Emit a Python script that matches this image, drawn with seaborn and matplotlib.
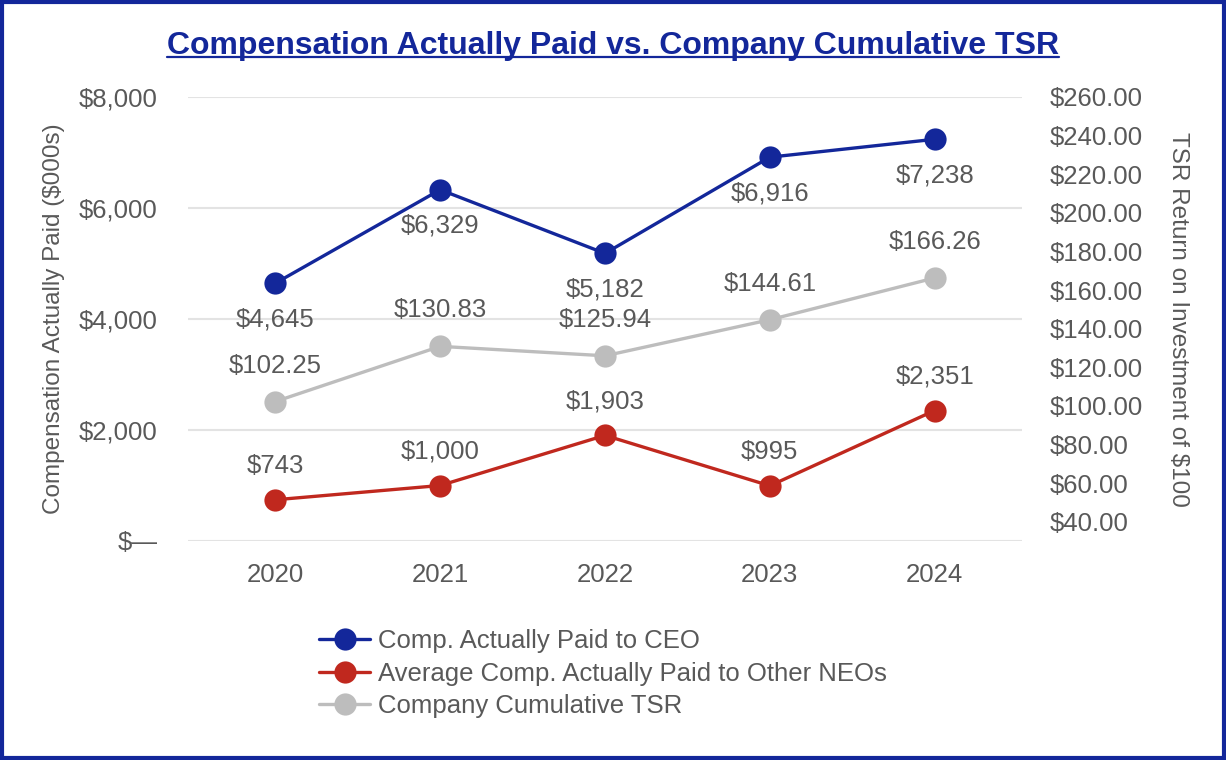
import numpy as np
import matplotlib
matplotlib.use("Agg")
import matplotlib.pyplot as plt
import seaborn as sns
from matplotlib.ticker import FuncFormatter, FixedLocator
from matplotlib.lines import Line2D
from matplotlib.patches import Rectangle

sns.set_style("white")
plt.rcParams['font.family'] = ['Liberation Sans', 'DejaVu Sans']
plt.rcParams['text.parse_math'] = False

# data
years = ['2020', '2021', '2022', '2023', '2024']
ceo_cap = [4645, 6329, 5182, 6916, 7238]
neo_cap = [743, 1000, 1903, 995, 2351]
tsr = [102.25, 130.83, 125.94, 144.61, 166.26]

navy = '#13279a'
red = '#c0281e'
grey = '#bdbdbd'
txt = '#595959'

fig = plt.figure(figsize=(12.26, 7.6), dpi=100)
W, H = 1226, 760
ax = fig.add_axes([188 / W, 1 - 541 / H, (1022 - 188) / W, 444 / H])
ax2 = ax.twinx()

x = np.arange(len(years))
sns.lineplot(x=x, y=ceo_cap, ax=ax, color=navy, lw=2.4, marker='o', markersize=16,
             markeredgewidth=0, legend=False)
sns.lineplot(x=x, y=neo_cap, ax=ax, color=red, lw=2.4, marker='o', markersize=16,
             markeredgewidth=0, legend=False)
sns.lineplot(x=x, y=tsr, ax=ax2, color=grey, lw=2.4, marker='o', markersize=16,
             markeredgewidth=0, legend=False)

ax.set_xlim(-0.53, 4.53)
ax.set_ylim(0, 8000)
ax2.set_ylim(30, 260)
ax.set_xticks(x)
ax.set_xticklabels(years)
ax.yaxis.set_major_locator(FixedLocator([0, 2000, 4000, 6000, 8000]))
ax.yaxis.set_major_formatter(FuncFormatter(lambda v, p: '$—' if v == 0 else f'${v:,.0f}'))
ax2.yaxis.set_major_locator(FixedLocator(np.arange(40, 261, 20)))
ax2.yaxis.set_major_formatter(FuncFormatter(lambda v, p: f'${v:.2f}'))

ax.grid(axis='y', color='#e3e3e3', lw=1.5)
ax.set_axisbelow(True)
for a in (ax, ax2):
    for s in a.spines.values():
        s.set_visible(False)
    a.tick_params(length=0, labelsize=18.5, colors=txt)
ax.tick_params(axis='x', pad=16)
ax.tick_params(axis='y', pad=22)
ax2.tick_params(axis='y', pad=20)

ax.set_ylabel('Compensation Actually Paid ($000s)', fontsize=17.5, color=txt, labelpad=10)
ax2.set_ylabel('TSR Return on Investment of $100', fontsize=17.5, color=txt, rotation=-90,
               labelpad=33)

# data labels (drawn on the top axes so gridlines stay underneath)
for i in x:
    ax2.annotate(f'${ceo_cap[i]:,}', (i, ceo_cap[i]), xycoords=ax.transData, xytext=(0, -36),
                 textcoords='offset pixels', ha='center', va='center', fontsize=18.5, color=txt)
    ax2.annotate(f'${neo_cap[i]:,}', (i, neo_cap[i]), xycoords=ax.transData, xytext=(0, 34),
                 textcoords='offset pixels', ha='center', va='center', fontsize=18.5, color=txt)
    ax2.annotate(f'${tsr[i]:.2f}', (i, tsr[i]), xytext=(0, 36), textcoords='offset pixels',
                 ha='center', va='center', fontsize=18.5, color=txt)

# legend
handles = [Line2D([], [], color=c, lw=2.4, marker='o', markersize=16, markeredgewidth=0)
           for c in (navy, red, grey)]
labels = ['Comp. Actually Paid to CEO', 'Average Comp. Actually Paid to Other NEOs',
          'Company Cumulative TSR']
leg = fig.legend(handles, labels, loc='upper left', bbox_to_anchor=(319 / W, 1 - 629 / H),
                 frameon=False, fontsize=18.5, handlelength=2.0, handletextpad=0.3,
                 labelspacing=0.34, borderaxespad=0, borderpad=0)
for t in leg.get_texts():
    t.set_color(txt)

# title with underline
title = fig.text(0.5, 1 - 54 / H, 'Compensation Actually Paid vs. Company Cumulative TSR',
                 ha='center', va='baseline', fontsize=23, fontweight='bold', color=navy)
fig.canvas.draw()
bb = title.get_window_extent()
yl = 1 - 57 / H
fig.add_artist(Line2D([bb.x0 / W, bb.x1 / W], [yl, yl], color=navy, lw=1.6))

# border
fig.add_artist(Rectangle((0.002, 0.003), 0.996, 0.994, transform=fig.transFigure,
                         fill=False, edgecolor=navy, lw=3))

fig.savefig('out.png', dpi=100)
